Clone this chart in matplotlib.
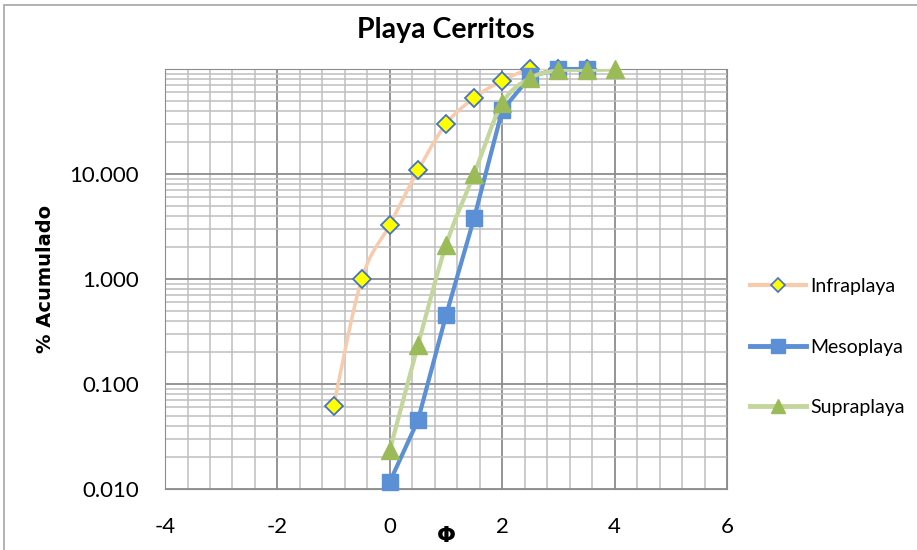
import numpy as np
import matplotlib.pyplot as plt
from matplotlib.ticker import FixedLocator, FixedFormatter, MultipleLocator, LogLocator, NullFormatter
from matplotlib.patches import Rectangle
from matplotlib.lines import Line2D

plt.rcParams['axes.unicode_minus'] = False
plt.rcParams['font.family'] = ['Lato', 'DejaVu Sans']

# datos
phi_infra = [-1, -0.5, 0, 0.5, 1, 1.5, 2, 2.5, 3, 3.5]
acum_infra = [0.062, 1.0, 3.3, 10.8, 30.0, 53.0, 77.5, 99.0, 100.0, 100.0]

phi_meso = [0, 0.5, 1, 1.5, 2, 2.5, 3, 3.5]
acum_meso = [0.0117, 0.045, 0.45, 3.8, 40.5, 85.0, 100.0, 100.0]

phi_supra = [0, 0.5, 1, 1.5, 2, 2.5, 3, 3.5, 4]
acum_supra = [0.0235, 0.235, 2.1, 10.0, 47.0, 82.0, 97.0, 98.0, 99.0]

y_ticks = [0.01, 0.1, 1, 10, 100]
y_labels = ['0.010', '0.100', '1.000', '10.000', '']


def suavizar(x, y, n=20):
    # curva tipo Excel (catmull-rom) en espacio log
    x = np.asarray(x, float)
    ly = np.log10(np.asarray(y, float))
    px = np.concatenate([[x[0]], x, [x[-1]]])
    py = np.concatenate([[ly[0]], ly, [ly[-1]]])
    xs, ys = [], []
    for i in range(1, len(px) - 2):
        t = np.linspace(0, 1, n)
        for arr, out in ((px, xs), (py, ys)):
            p0, p1, p2, p3 = arr[i - 1], arr[i], arr[i + 1], arr[i + 2]
            out.extend(0.5 * ((2 * p1) + (-p0 + p2) * t + (2 * p0 - 5 * p1 + 4 * p2 - p3) * t ** 2
                              + (-p0 + 3 * p1 - 3 * p2 + p3) * t ** 3))
    return np.array(xs), 10 ** np.array(ys)


fig = plt.figure(figsize=(9.17, 5.5), dpi=100)
ax = fig.add_axes([0.18, 0.111, 0.6128, 0.7635])

# marco del grafico
fig.patches.append(Rectangle((4 / 917, -0.1), 1.2, 545 / 550 + 0.1, transform=fig.transFigure,
                             fill=False, edgecolor='#a6a6a6', linewidth=1.2))

c_infra = '#F8CBAD'
c_meso = '#5B8FD6'
c_supra = '#C3D69B'

sx, sy = suavizar(phi_infra, acum_infra)
ax.plot(sx, sy, color=c_infra, lw=2.5, zorder=3)
ax.plot(phi_infra, acum_infra, ls='none', marker='D', ms=9, mfc='#FFFF00', mec='#4472C4', mew=1.3,
        zorder=4, clip_on=False)

ax.plot(phi_meso, acum_meso, color=c_meso, lw=3, marker='s', ms=12, mfc=c_meso, mec=c_meso,
        zorder=5, clip_on=False)

sx, sy = suavizar(phi_supra, acum_supra)
ax.plot(sx, sy, color=c_supra, lw=3, zorder=6)
ax.plot(phi_supra, acum_supra, ls='none', marker='^', ms=13, mfc='#9BBB59', mec='#9BBB59',
        zorder=7, clip_on=False)

ax.set_yscale('log')
ax.set_xlim(-4, 6)
ax.set_ylim(0.01, 100)
ax.xaxis.set_major_locator(MultipleLocator(2))
ax.xaxis.set_minor_locator(MultipleLocator(0.4))
ax.yaxis.set_major_locator(FixedLocator(y_ticks))
ax.yaxis.set_major_formatter(FixedFormatter(y_labels))
ax.yaxis.set_minor_locator(LogLocator(base=10, subs=np.arange(2, 10)))
ax.yaxis.set_minor_formatter(NullFormatter())

ax.grid(which='major', color='#8c8c8c', lw=1.3)
ax.grid(which='minor', color='#bfbfbf', lw=1.1)
ax.set_axisbelow(True)
for s in ax.spines.values():
    s.set_color('#8c8c8c')
ax.tick_params(which='both', length=0, labelsize=16)
ax.tick_params(axis='y', pad=19)
ax.tick_params(axis='x', pad=20)

ax.set_title('Playa Cerritos', fontsize=20.5, fontweight='bold', pad=22)
ax.set_xlabel('Φ', fontsize=16, fontweight='bold', family='DejaVu Sans', labelpad=-8)
ax.set_ylabel('% Acumulado', fontsize=14, fontweight='bold', family='DejaVu Sans', labelpad=10)

# leyenda
handles = [
    Line2D([], [], color=c_infra, lw=3, marker='D', ms=7, mfc='#FFFF00', mec='#4472C4', mew=1.2),
    Line2D([], [], color=c_meso, lw=3.5, marker='s', ms=10, mfc=c_meso, mec=c_meso),
    Line2D([], [], color=c_supra, lw=3.5, marker='^', ms=10, mfc='#9BBB59', mec='#9BBB59'),
]
fig.legend(handles, ['Infraplaya', 'Mesoplaya', 'Supraplaya'], loc='center left',
           bbox_to_anchor=(0.818, 0.369), frameon=False, fontsize=14, handlelength=2.9,
           handletextpad=0.2, labelspacing=2.25, borderaxespad=0, borderpad=0)

fig.savefig('out.png', dpi=100)
